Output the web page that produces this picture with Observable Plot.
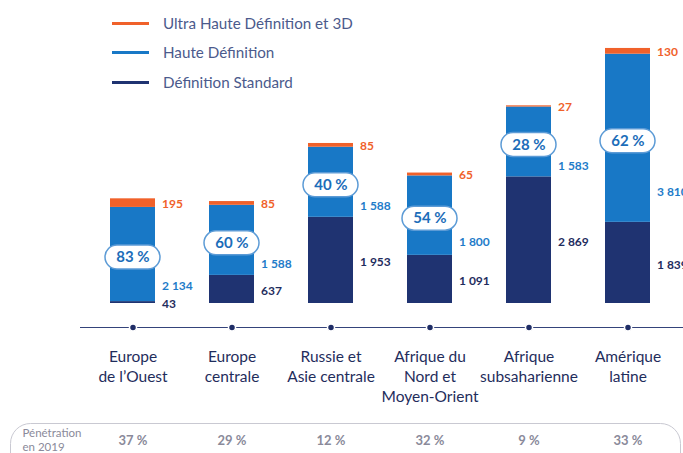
<!DOCTYPE html>
<html><head><meta charset="utf-8">
<script src="https://cdn.jsdelivr.net/npm/d3@7"></script>
<script src="https://cdn.jsdelivr.net/npm/@observablehq/plot@0.6"></script>
<style>
body{margin:0;background:#fff;font-family:Lato,"Noto Sans",sans-serif;}
#wrap{position:relative;width:683px;height:453px;overflow:hidden;}
.leg{position:absolute;left:112px;display:flex;align-items:center;font-size:15.2px;color:#4b5a8c;white-space:nowrap;}
.leg span.sw{display:inline-block;width:37px;height:3px;margin-right:14px;}
</style></head>
<body><div id="wrap"></div>
<script>
const regions = ["Europe de l'Ouest","Europe centrale","Russie et Asie centrale","Afrique du Nord et Moyen-Orient","Afrique subsaharienne","Amérique latine"];
const regionLabels = ["Europe\nde l’Ouest","Europe\ncentrale","Russie et\nAsie centrale","Afrique du\nNord et\nMoyen-Orient","Afrique\nsubsaharienne","Amérique\nlatine"];
const seriesNames = ["Ultra Haute Définition et 3D","Haute Définition","Définition Standard"];
const seriesColors = ["#f0612a","#1878c6","#1f3371"];
const labelColors = ["#f0612a","#1f7cc9","#1f2d5e"];
const sd = [43, 637, 1953, 1091, 2869, 1839];
const hd = [2134, 1588, 1588, 1800, 1583, 3810];
const uhd = [195, 85, 85, 65, 27, 130];
const hdShare = ["83 %","60 %","40 %","54 %","28 %","62 %"];
const penetration = ["37 %","29 %","12 %","32 %","9 %","33 %"];

const fmt = d3.formatLocale({decimal:",", thousands:" ", grouping:[3], currency:["","€"]}).format(",d");

const rows = regions.map((r,i)=>({region:r, sd:sd[i], hd:hd[i], uhd:uhd[i], share:hdShare[i], pen:penetration[i], label:regionLabels[i]}));
const segs = [];
rows.forEach(d=>{
  segs.push({region:d.region, series:seriesNames[2], y1:0, y2:d.sd});
  segs.push({region:d.region, series:seriesNames[1], y1:d.sd, y2:d.sd+d.hd});
  segs.push({region:d.region, series:seriesNames[0], y1:d.sd+d.hd, y2:d.sd+d.hd+d.uhd});
});
const font = "Lato, 'Noto Sans', sans-serif";
const zero = () => 0;

const chart = Plot.plot({
  width:683, height:453, margin:0,
  style:{fontFamily:font, background:"transparent", overflow:"hidden"},
  x:{type:"band", domain:regions, range:[55.3,704.7], padding:0.546, axis:null},
  y:{domain:[0,6000], range:[303,38.2], axis:null},
  color:{domain:seriesNames, range:seriesColors},
  marks:[
    Plot.barY(segs, {x:"region", y1:"y1", y2:"y2", fill:"series"}),
    // pills
    Plot.barY(rows, {x:"region", y1:d=>d.sd+d.hd/2, y2:d=>d.sd+d.hd/2, dy:3,
      insetTop:-12, insetBottom:-12, insetLeft:-5, insetRight:-5, rx:12,
      fill:"white", stroke:"#5c9bd6", strokeWidth:1.5}),
    Plot.text(rows, {x:"region", y:d=>d.sd+d.hd/2, dy:3, text:"share", fontSize:15, fontWeight:"bold", fill:"#1c6db9"}),
    // value labels
    Plot.text(rows, {x:"region", y:d=>d.sd+d.hd+d.uhd/2, dx:29, dy:1, text:d=>fmt(d.uhd), textAnchor:"start", fontSize:12, fontWeight:"bold", fill:labelColors[0]}),
    Plot.text(rows, {x:"region", y:d=>d.sd+0.2*d.hd, dx:29, dy:3, text:d=>fmt(d.hd), textAnchor:"start", fontSize:12, fontWeight:"bold", fill:labelColors[1]}),
    Plot.text(rows, {x:"region", y:d=>d.sd/2, dx:29, dy:2, text:d=>fmt(d.sd), textAnchor:"start", fontSize:12, fontWeight:"bold", fill:labelColors[2]}),
    // timeline
    Plot.ruleY([0], {dy:24, insetLeft:80, stroke:"#34437a", strokeWidth:1}),
    Plot.dot(rows, {x:"region", y:zero, dy:24, r:3.5, fill:"#1f2d66", stroke:"white", strokeWidth:1.5}),
    Plot.text(rows, {x:"region", y:zero, dy:44, text:"label", lineAnchor:"top", fontSize:15.5, lineHeight:1.3, fill:"#1f2d5c"}),
    // penetration row
    Plot.frame({insetTop:423, insetLeft:10, insetRight:3, insetBottom:-25, rx:20, stroke:"#c9c9d2", strokeWidth:1}),
    Plot.text(["Pénétration\nen 2019"], {frameAnchor:"top-left", dx:22, dy:426, lineAnchor:"top", textAnchor:"start", fontSize:11.5, lineHeight:1.25, fill:"#8a8a9a"}),
    Plot.text(rows, {x:"region", y:zero, dy:137, text:"pen", fontSize:13, fontWeight:"bold", fill:"#8a8a9a"})
  ]
});
const wrap = document.getElementById("wrap");
wrap.appendChild(chart);
const legTops = [23, 52, 82];
seriesNames.forEach((s,i)=>{
  const div = document.createElement("div");
  div.className = "leg";
  div.style.top = (legTops[i]-10) + "px";
  div.style.height = "20px";
  const sw = document.createElement("span");
  sw.className = "sw"; sw.style.background = seriesColors[i];
  div.appendChild(sw);
  div.appendChild(document.createTextNode(s));
  wrap.appendChild(div);
});
</script></body></html>
